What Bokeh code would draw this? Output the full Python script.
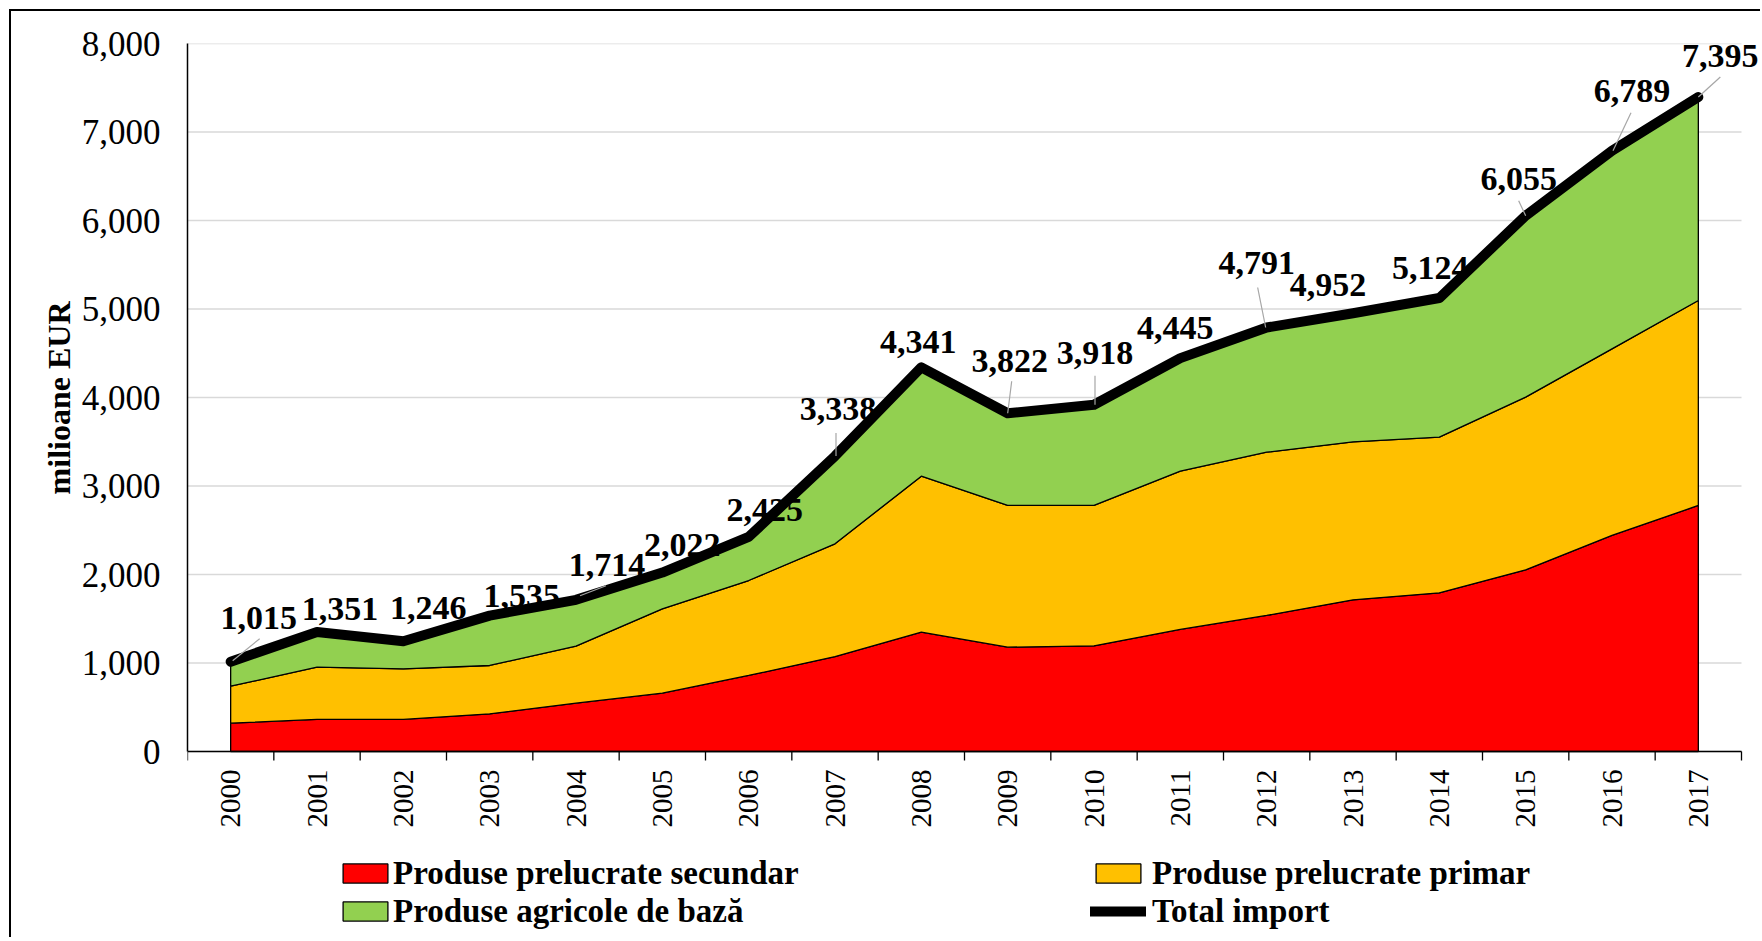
import math
from bokeh.plotting import figure
from bokeh.models import Range1d, FixedTicker, NumeralTickFormatter, Legend, LegendItem, Title
from bokeh.core.properties import value
from bokeh.embed import file_html
from bokeh.resources import INLINE

# ---------------- data ----------------
years = [str(y) for y in range(2000, 2018)]
secundar = [320, 362, 362, 426, 546, 659, 859, 1073, 1348, 1179, 1194, 1379, 1537, 1714, 1793, 2053, 2441, 2780]
primar = [418, 591, 572, 546, 644, 953, 1073, 1274, 1763, 1601, 1586, 1788, 1845, 1785, 1759, 1951, 2109, 2316]
agricole = [277, 398, 312, 563, 524, 410, 493, 991, 1230, 1042, 1138, 1278, 1409, 1453, 1572, 2051, 2239, 2299]
total = [1015, 1351, 1246, 1535, 1714, 2022, 2425, 3338, 4341, 3822, 3918, 4445, 4791, 4952, 5124, 6055, 6789, 7395]
y_ticks = [0, 1000, 2000, 3000, 4000, 5000, 6000, 7000, 8000]

series_names = ["Produse prelucrate secundar", "Produse prelucrate primar", "Produse agricole de bază"]
series_colors = ["#FF0000", "#FFC000", "#92D050"]
total_name = "Total import"
y_title = "milioane EUR"

# label placement (pixel offsets from each point, right / up)
lab_dx = [28, 23, 25, 32, 31, 20, 16, 3, -3, 2, 1, -5, -10, -25, -9, -7, 20, 22]
lab_dy = [44, 23, 33, 20, 35, 28, 27, 47, 25, 52, 52, 30, 64, 28, 30, 37, 60, 41]
# leader lines: index -> (x0, y0, x1, y1) pixel offsets
leaders = {0: (2, 1, 29, 23), 4: (4, 4, 30, 14), 7: (1, 0, 1, 23), 9: (0, 0, 4, 32),
           10: (1, 0, 1, 29), 12: (-1, 0, -9, 40), 15: (0, 0, -7, 15),
           16: (1, 0, 19, 38), 17: (0, 0, 22, 20)}

SERIF = "Liberation Serif"

# ---------------- geometry (pixels) ----------------
W, H = 1751, 928
MBL, MBT = 176, 32
DATA_H = 708                  # pixel height of 0..8000
CAT_PX = 1554 / 18.0          # width of one category in pixels
frame_w = W - MBL
frame_h = H - MBT
ymax = 8000
y_ppu = DATA_H / ymax
ymin = -(frame_h - DATA_H) / y_ppu
x_end = frame_w / CAT_PX

p = figure(width=W, height=H, output_backend="svg", toolbar_location=None,
           x_range=Range1d(0, x_end), y_range=Range1d(ymin, ymax),
           min_border_left=MBL, min_border_right=0, min_border_top=MBT, min_border_bottom=0)
p.styles = {"margin-left": "9px", "margin-top": "9px",
            "border-left": "2px solid #000000", "border-top": "2px solid #000000"}
p.outline_line_color = None
p.background_fill_color = "white"
p.border_fill_color = "white"

n = len(years)
xs = [i + 0.5 for i in range(n)]
bounds = list(range(n + 1))

# horizontal gridlines limited to the category span
p.xgrid.grid_line_color = None
p.ygrid.grid_line_color = None
p.segment([0] * len(y_ticks), y_ticks, [n] * len(y_ticks), y_ticks,
          line_color="#d9d9d9", line_width=1.5)

# stacked areas as patches
lower = [0] * n
renderers = []
for vals, col in zip([secundar, primar, agricole], series_colors):
    upper = [a + b for a, b in zip(lower, vals)]
    r = p.patch(xs + xs[::-1], upper + lower[::-1], fill_color=col,
                line_color="black", line_width=1.3)
    renderers.append(r)
    lower = upper

# total line
rl = p.line(xs, total, line_color="black", line_width=10, line_join="round", line_cap="round")

# leader lines
lx0, ly0, lx1, ly1 = [], [], [], []
for i, (a, b, c, d) in leaders.items():
    lx0.append(xs[i] + a / CAT_PX)
    ly0.append(total[i] + b / y_ppu)
    lx1.append(xs[i] + c / CAT_PX)
    ly1.append(total[i] + d / y_ppu)
p.segment(lx0, ly0, lx1, ly1, line_color="#a6a6a6", line_width=1.2)

# data labels
p.text(x=xs, y=total, text=[f"{v:,}" for v in total],
       x_offset=lab_dx, y_offset=[-d for d in lab_dy],
       text_align="center", text_baseline="middle",
       text_font=value(SERIF), text_font_style="bold", text_font_size="34px",
       text_color="black")

# ---------------- category (x) axis at y = 0 ----------------
p.xaxis.visible = False
tick_len = 9 / y_ppu
p.segment([0], [0], [n], [0], line_color="black", line_width=1.5)
p.segment(bounds, [0] * len(bounds), bounds, [-tick_len] * len(bounds),
          line_color="black", line_width=1.3)
p.text(x=xs, y=[0] * n, text=years, angle=math.pi / 2, y_offset=18,
       text_align="right", text_baseline="middle",
       text_font=value(SERIF), text_font_size="29px", text_color="black")

# ---------------- value (y) axis ----------------
p.yaxis.bounds = (0, ymax)
p.yaxis.ticker = FixedTicker(ticks=y_ticks)
p.yaxis.formatter = NumeralTickFormatter(format="0,0")
p.yaxis.major_tick_line_color = None
p.yaxis.minor_tick_line_color = None
p.yaxis.major_tick_out = 0
p.yaxis.axis_line_color = "black"
p.yaxis.axis_line_width = 1.5
p.yaxis.major_label_text_font = SERIF
p.yaxis.major_label_text_font_size = "35px"
p.yaxis.major_label_text_color = "black"
p.yaxis.major_label_standoff = 27

p.add_layout(Title(text=y_title, align="right", offset=258, standoff=4,
                   text_font=SERIF, text_font_style="bold", text_font_size="32px",
                   text_color="black"), "left")

# ---------------- legend (two columns of two rows) ----------------
def legend_col(items, loc, standoff):
    return Legend(items=items, orientation="vertical", location=loc,
                  label_text_font=SERIF, label_text_font_style="bold",
                  label_text_font_size="33px", label_text_color="black",
                  glyph_width=56, glyph_height=24, label_height=38,
                  label_standoff=standoff, spacing=0, padding=0, margin=0,
                  border_line_color=None, background_fill_alpha=0)

p.add_layout(legend_col([LegendItem(label=series_names[0], renderers=[renderers[0]]),
                         LegendItem(label=series_names[2], renderers=[renderers[2]])],
                        (150, 9), 0))
p.add_layout(legend_col([LegendItem(label=series_names[1], renderers=[renderers[1]]),
                         LegendItem(label=total_name, renderers=[rl])],
                        (903, 9), 6))

open("out.html", "w").write(file_html(p, INLINE))
